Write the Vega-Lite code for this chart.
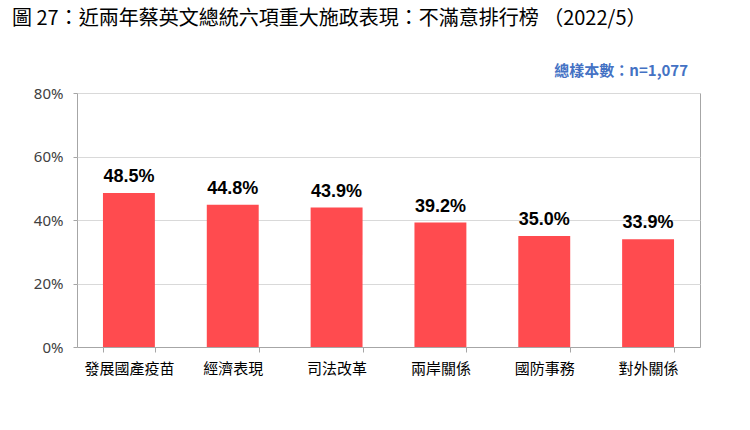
{
  "$schema": "https://vega.github.io/schema/vega-lite/v6.json",
  "width": 623,
  "height": 254,
  "autosize": {"type": "none"},
  "padding": {"left": 77, "top": 93, "right": 50, "bottom": 83},
  "background": "white",
  "title": {
    "text": "圖 27：近兩年蔡英文總統六項重大施政表現：不滿意排行榜 （2022/5）",
    "anchor": "start",
    "frame": "group",
    "dx": -65,
    "offset": 15,
    "baseline": "bottom",
    "font": "Noto Sans CJK TC",
    "fontSize": 20,
    "fontWeight": "normal",
    "color": "#000000"
  },
  "config": {
    "view": {"stroke": "#A6A6A6", "strokeWidth": 1},
    "font": "Noto Sans CJK TC"
  },
  "data": {
    "values": [
      {"item": "發展國產疫苗", "pct": 0.485},
      {"item": "經濟表現", "pct": 0.448},
      {"item": "司法改革", "pct": 0.439},
      {"item": "兩岸關係", "pct": 0.392},
      {"item": "國防事務", "pct": 0.350},
      {"item": "對外關係", "pct": 0.339}
    ]
  },
  "layer": [
    {
      "mark": {"type": "bar", "color": "#FF4B4F"},
      "encoding": {
        "x": {
          "field": "item",
          "type": "nominal",
          "sort": null,
          "scale": {"paddingInner": 0.5, "paddingOuter": 0.25},
          "axis": {
            "title": null,
            "labelAngle": 0,
            "labelFont": "Noto Sans CJK TC",
            "labelFontSize": 15,
            "labelColor": "#000000",
            "labelPadding": 9,
            "tickBand": "extent",
            "tickSize": 5,
            "tickColor": "#A6A6A6",
            "domainColor": "#A6A6A6"
          }
        },
        "y": {
          "field": "pct",
          "type": "quantitative",
          "scale": {"domain": [0, 0.8]},
          "axis": {
            "title": null,
            "format": ".0%",
            "values": [0, 0.2, 0.4, 0.6, 0.8],
            "labelFont": "Noto Sans",
            "labelFontSize": 15,
            "labelColor": "#404040",
            "labelPadding": 10,
            "tickSize": 4,
            "tickColor": "#A6A6A6",
            "domain": false,
            "gridColor": "#D9D9D9"
          }
        }
      }
    },
    {
      "mark": {
        "type": "text",
        "baseline": "middle",
        "dy": -16,
        "font": "Liberation Sans",
        "fontSize": 18,
        "fontWeight": "bold",
        "color": "#000000"
      },
      "encoding": {
        "x": {"field": "item", "type": "nominal", "sort": null},
        "y": {"field": "pct", "type": "quantitative"},
        "text": {"field": "pct", "type": "quantitative", "format": ".1%"}
      }
    },
    {
      "data": {"values": [{"note": "總樣本數：n=1,077"}]},
      "mark": {
        "type": "text",
        "align": "right",
        "baseline": "middle",
        "dx": 40,
        "font": "Noto Sans CJK TC",
        "fontSize": 15,
        "fontWeight": "bold",
        "color": "#4472C4"
      },
      "encoding": {
        "x": {"datum": "對外關係"},
        "y": {"datum": 0.87},
        "text": {"field": "note"}
      }
    }
  ]
}
